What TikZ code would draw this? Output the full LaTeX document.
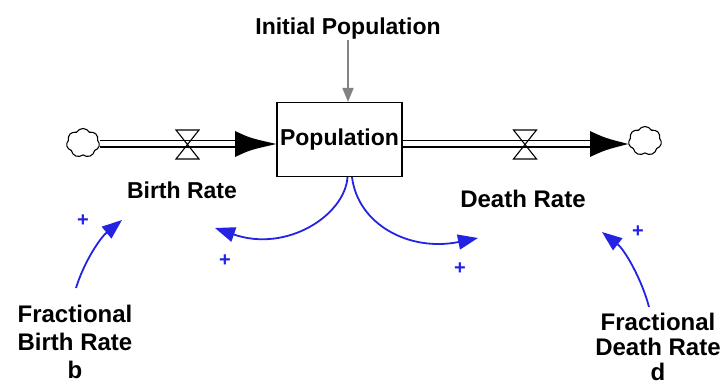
\documentclass[tikz,border=0pt]{standalone}
\usepackage{fontspec}
\setmainfont{Liberation Sans}
\usetikzlibrary{arrows.meta,shapes.symbols}
\definecolor{lnk}{RGB}{35,35,225}
\definecolor{initgray}{RGB}{130,130,130}
\begin{document}
\begin{tikzpicture}[x=1pt,y=-1pt,
  lbl/.style={font=\fontsize{23}{28}\selectfont\bfseries, inner sep=0pt},
  stock/.style={draw,line width=1.2pt,minimum width=125pt,minimum height=74pt,inner sep=0pt},
  cloudshape/.style={cloud,cloud puffs=7,cloud puff arc=120,draw,line width=1.1pt,minimum width=33pt,minimum height=29pt,inner sep=0pt,aspect=1.1},
  pipe/.style={double distance=5pt,line width=1.3pt},
  valveshape/.style={line width=1.1pt},
  link/.style={draw=lnk,line width=1.8pt,-{Triangle[length=20pt,width=15pt]}},
  plussign/.style={text=lnk,font=\fontsize{20}{20}\selectfont\bfseries,inner sep=0pt},
  flowhead/.style={fill=black}
]
\useasboundingbox (0,0) rectangle (724,385);

% stock
\node[stock,lbl] (pop) at (339.5,139.5) {Population};
\node[lbl,anchor=base] (init) at (348,35) {Initial Population};
\draw[initgray,line width=1.8pt,-{Triangle[length=14pt,width=11pt]}] (init.south) -- (init.south |- pop.north);

% clouds
\node[cloudshape] (cloudL) at (83,143) {};
\node[cloudshape] (cloudR) at (645,141) {};

% birth pipe
\coordinate (hL) at (235,144);
\coordinate (vL) at (187.5,144.5);
\draw[pipe] (cloudL.east |- hL) -- (hL);
\draw[valveshape] (vL) ++(-11.5,-14.5) -- ++(23,0) -- ++(-23,29) -- ++(23,0) -- cycle;
\fill[flowhead] (235,131) .. controls (250,138) .. (pop.west |- hL) .. controls (250,150) .. (235,157) -- cycle;

% death pipe
\coordinate (hR) at (590,144);
\coordinate (vR) at (525,144.5);
\draw[pipe] (pop.east |- hR) -- (hR);
\draw[valveshape] (vR) ++(-11.5,-14.5) -- ++(23,0) -- ++(-23,29) -- ++(23,0) -- cycle;
\fill[flowhead] (590,131) .. controls (605,138) .. (cloudR.west |- hR) .. controls (605,150) .. (590,157) -- cycle;

% rate labels
\node[lbl,anchor=base] (birth) at (182,199) {Birth Rate};
\node[lbl,anchor=base,font=\fontsize{24}{28}\selectfont\bfseries] (death) at (523,208) {Death Rate};

% links from stock
\coordinate (bTip) at (215,228);
\coordinate (dTip) at (478,238);
\draw[link] ([xshift=8pt]pop.south) .. controls (345,215) and (287,253) .. (bTip);
\draw[link] ([xshift=12.5pt]pop.south) .. controls (358,225) and (410,252) .. (dTip);
\node[plussign] (plusB) at (225,261) {+};
\node[plussign] (plusD) at (460,269) {+};

% fractional rates
\node[lbl,align=center,anchor=north,font=\fontsize{24}{28}\selectfont\bfseries] (fb) at (75,305) {Fractional\\Birth Rate\\b};
\node[lbl,align=center,anchor=north,font=\fontsize{24}{25}\selectfont\bfseries] (fd) at (658,313) {Fractional\\Death Rate\\d};

\coordinate (fbS) at (76,288);
\coordinate (fbT) at (122,220);
\draw[link] (fbS) .. controls (84,262) and (100,238) .. (fbT);
\node[plussign] (plusFB) at (83,221) {+};

\coordinate (fdS) at (649,307);
\coordinate (fdT) at (602,232);
\draw[link] (fdS) .. controls (642,280) and (625,250) .. (fdT);
\node[plussign] (plusFD) at (638,232) {+};
\end{tikzpicture}
\end{document}
